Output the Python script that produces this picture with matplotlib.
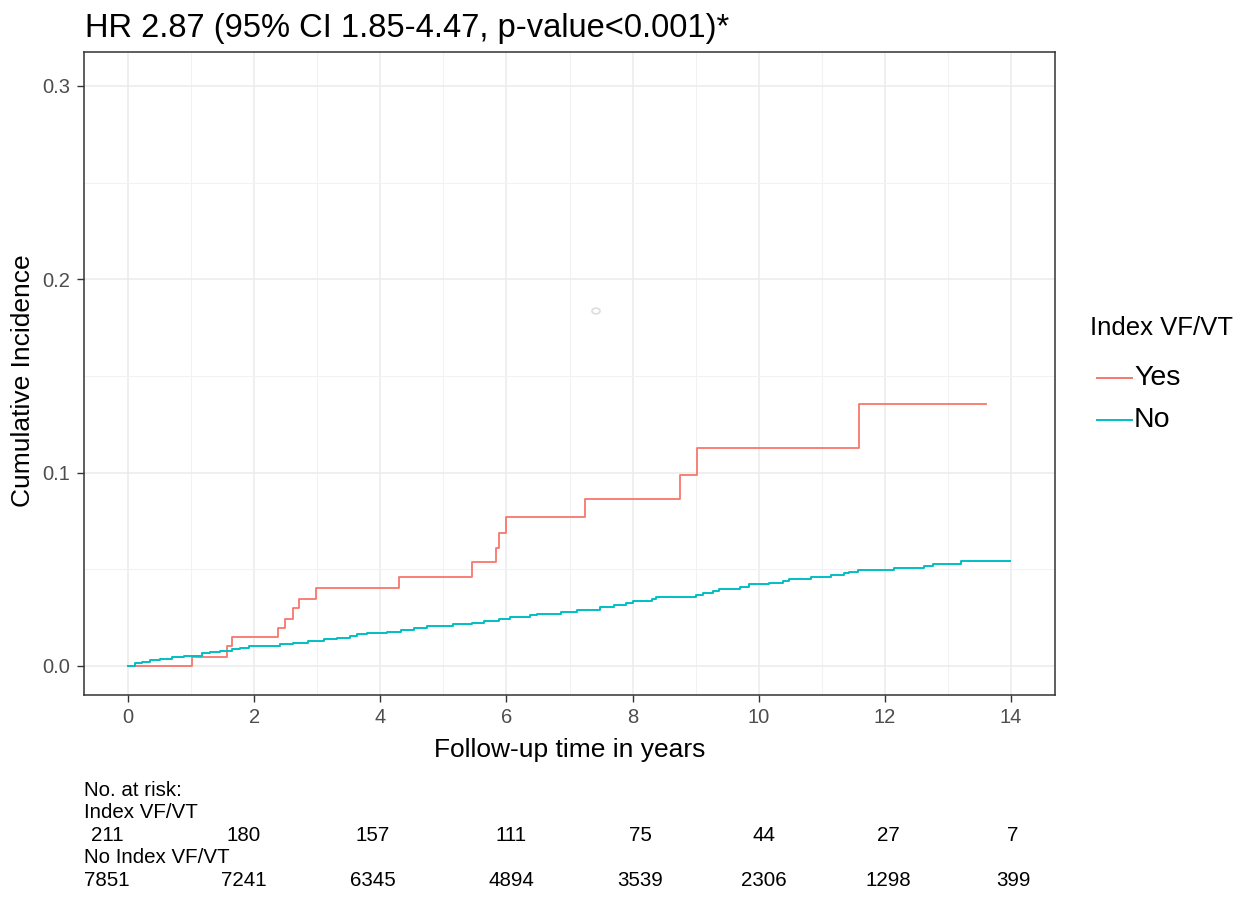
import matplotlib
matplotlib.use("Agg")
import matplotlib.pyplot as plt
from matplotlib import font_manager
from matplotlib.lines import Line2D
from matplotlib.patches import Circle

# ---------------- data ----------------
yes_time = [0, 1.01, 1.57, 1.65, 2.37, 2.48, 2.62, 2.71, 2.98, 4.30, 5.45, 5.84, 5.88, 6.00,
            7.24, 8.76, 9.02, 11.59, 13.61]
yes_ci = [0, 0.0048, 0.0105, 0.0152, 0.0198, 0.0245, 0.0300, 0.0348, 0.0405, 0.0462, 0.0536,
          0.0612, 0.0686, 0.0772, 0.0866, 0.0987, 0.1126, 0.1354, 0.1354]

no_time = [0, 0.11, 0.22, 0.35, 0.51, 0.69, 0.88, 1.17, 1.30, 1.46, 1.65, 1.78, 1.91, 2.41, 2.62,
           2.86, 3.10, 3.31, 3.52, 3.63, 3.79, 4.11, 4.32, 4.53, 4.74, 5.16, 5.46, 5.64, 5.88,
           6.06, 6.38, 6.49, 6.86, 7.12, 7.49, 7.70, 7.89, 8.00, 8.31, 8.37, 9.00, 9.11, 9.27,
           9.37, 9.71, 9.85, 10.16, 10.38, 10.48, 10.83, 11.14, 11.35, 11.43, 11.57, 12.15,
           12.62, 12.76, 13.21, 13.99]
no_ci = [0, 0.0014, 0.0021, 0.0029, 0.0036, 0.0045, 0.0052, 0.0066, 0.0071, 0.0079, 0.0086,
         0.0095, 0.0105, 0.0114, 0.0121, 0.0129, 0.0138, 0.0146, 0.0155, 0.0163, 0.0170, 0.0178,
         0.0186, 0.0195, 0.0205, 0.0215, 0.0224, 0.0232, 0.0241, 0.0251, 0.0262, 0.0271, 0.0280,
         0.0292, 0.0305, 0.0316, 0.0326, 0.0338, 0.0346, 0.0355, 0.0367, 0.0376, 0.0386, 0.0400,
         0.0410, 0.0422, 0.0430, 0.0440, 0.0450, 0.0460, 0.0469, 0.0480, 0.0488, 0.0498, 0.0507,
         0.0517, 0.0528, 0.0545, 0.0545]

series_labels = ["Yes", "No"]
risk_yes = [211, 180, 157, 111, 75, 44, 27, 7]
risk_no = [7851, 7241, 6345, 4894, 3539, 2306, 1298, 399]

x_ticks = [0, 2, 4, 6, 8, 10, 12, 14]
y_ticks = [0.0, 0.1, 0.2, 0.3]
y_tick_labels = ["0.0", "0.1", "0.2", "0.3"]

title_text = "HR 2.87 (95% CI 1.85-4.47, p-value<0.001)*"

# ---------------- style ----------------
names = {f.name for f in font_manager.fontManager.ttflist}
main_font = "Liberation Sans" if "Liberation Sans" in names else "DejaVu Sans"
plt.rcParams["font.family"] = [main_font, "DejaVu Sans"]

RED = "#F8766D"
TEAL = "#00BFC4"

W, H = 1251, 897
fig = plt.figure(figsize=(W / 100, H / 100), dpi=100)
fig.patch.set_facecolor("white")

def fx(px):
    return px / W

def fy(py):
    return 1 - py / H

ax = fig.add_axes([fx(84), fy(695), fx(1055) - fx(84), fy(52) - fy(695)])
ax.set_xlim(-0.7, 14.7)
ax.set_ylim(-0.0150, 0.3175)

ax.set_xticks(x_ticks)
ax.set_xticks([1, 3, 5, 7, 9, 11, 13], minor=True)
ax.set_yticks(y_ticks)
ax.set_yticklabels(y_tick_labels)
ax.set_yticks([0.05, 0.15, 0.25], minor=True)
ax.grid(True, which="major", color="#EBEBEB", linewidth=1.1)
ax.grid(True, which="minor", color="#F2F2F2", linewidth=0.8)
ax.set_axisbelow(True)
ax.tick_params(which="minor", length=0)
ax.tick_params(which="major", length=4.7, width=1.0, color="#333333",
               labelsize=14.5, labelcolor="#4D4D4D", pad=5)
for s in ax.spines.values():
    s.set_color("#333333")
    s.set_linewidth(1.1)

ax.step(yes_time, yes_ci, where="post", color=RED, linewidth=1.3)
ax.step(no_time, no_ci, where="post", color=TEAL, linewidth=1.4)

fig.text(fx(570), fy(750), "Follow-up time in years", fontsize=19, ha="center", va="center")
fig.text(fx(23), fy(381), "Cumulative Incidence", fontsize=19, ha="center", va="center",
         rotation=90)

fig.text(fx(85), fy(28), title_text, fontsize=23.5, ha="left", va="center", color="black")

# legend
fig.text(fx(1090), fy(328), "Index VF/VT", fontsize=18.5, ha="left", va="center")
for i, (lab, col) in enumerate(zip(series_labels, [RED, TEAL])):
    yy = fy(378 + 42 * i)
    fig.add_artist(Line2D([fx(1097), fx(1132)], [yy, yy], color=col, linewidth=1.4))
    fig.text(fx(1134), yy, lab, fontsize=20.5, ha="left", va="center")

# faint ring artefact
fig.add_artist(Circle((fx(596), fy(311)), 4 / W, transform=fig.transFigure,
                      fill=False, edgecolor="#DDDDDD", linewidth=1.2))

# number at risk table
col_px = [107, 244, 373, 511, 640, 764, 888, 1013]
tfs = 14.8
fig.text(fx(84), fy(790), "No. at risk:", fontsize=tfs, ha="left", va="center")
fig.text(fx(84), fy(812), "Index VF/VT", fontsize=tfs, ha="left", va="center")
fig.text(fx(84), fy(857), "No Index VF/VT", fontsize=tfs, ha="left", va="center")
for cx, a, b in zip(col_px, risk_yes, risk_no):
    fig.text(fx(cx), fy(835), str(a), fontsize=tfs, ha="center", va="center")
    fig.text(fx(cx), fy(880), str(b), fontsize=tfs, ha="center", va="center")

fig.savefig("out.png", dpi=100)
